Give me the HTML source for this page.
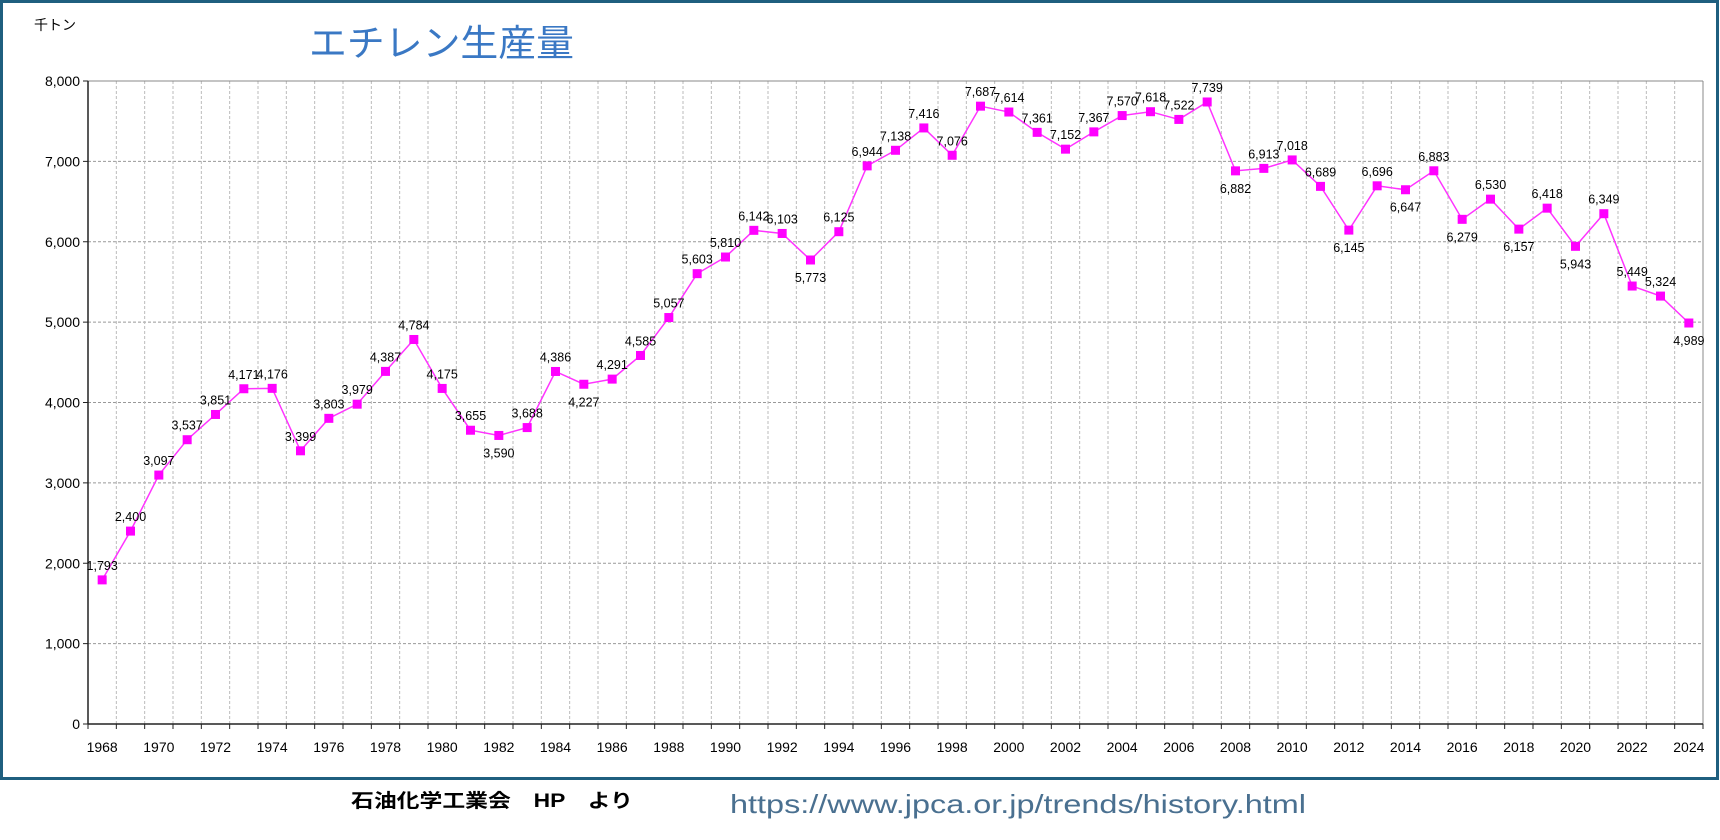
<!DOCTYPE html>
<html><head><meta charset="utf-8"><style>
html,body{margin:0;padding:0;background:#fff;}
svg{display:block;}
</style></head><body>
<svg id="s" width="1720" height="840" xmlns="http://www.w3.org/2000/svg" font-family="'Liberation Sans','Noto Sans CJK JP',sans-serif">
<rect x="1.5" y="1.5" width="1716" height="777" fill="#fff" stroke="#1f5f7f" stroke-width="3"/>
<text x="34" y="30" font-size="14" fill="#000">千トン</text>
<text x="309" y="56" font-size="37" fill="#3a78c4" textLength="265" lengthAdjust="spacingAndGlyphs">エチレン生産量</text>
<text x="351" y="807" font-size="19" font-weight="bold" fill="#000" textLength="282" lengthAdjust="spacingAndGlyphs">石油化学工業会　HP　より</text>
<text x="730" y="813" font-size="26" fill="#4a7090" textLength="576" lengthAdjust="spacingAndGlyphs">https://www.jpca.or.jp/trends/history.html</text>
<g id="g"></g>
</svg>
<script>
var d=[1793,2400,3097,3537,3851,4171,4176,3399,3803,3979,4387,4784,4175,3655,3590,3688,4386,4227,4291,4585,5057,5603,5810,6142,6103,5773,6125,6944,7138,7416,7076,7687,7614,7361,7152,7367,7570,7618,7522,7739,6882,6913,7018,6689,6145,6696,6647,6883,6279,6530,6157,6418,5943,6349,5449,5324,4989];
var below={1982:1,1985:1,1993:1,2008:1,2012:1,2014:1,2016:1,2018:1,2020:1,2024:1};
var L=88,R=1703,T=81,B=724,w=(R-L)/57;
function X(i){return L+w*(i+0.5);} function Y(v){return B-v*(B-T)/8000;}
var s='';
for(var k=1;k<=8;k++){var y=Y(k*1000);s+='<line x1="'+L+'" x2="'+R+'" y1="'+y+'" y2="'+y+'" stroke="#999" stroke-dasharray="3,2"/>';}
for(var k=1;k<57;k++){var x=L+w*k;s+='<line x1="'+x+'" x2="'+x+'" y1="'+T+'" y2="'+B+'" stroke="#bbb" stroke-dasharray="3,2"/>';}
s+='<line x1="'+L+'" x2="'+R+'" y1="'+T+'" y2="'+T+'" stroke="#888"/>';
s+='<line x1="'+R+'" x2="'+R+'" y1="'+T+'" y2="'+B+'" stroke="#888"/>';
s+='<line x1="'+L+'" x2="'+L+'" y1="'+T+'" y2="'+B+'" stroke="#222" stroke-width="1.5"/>';
s+='<line x1="'+L+'" x2="'+R+'" y1="'+B+'" y2="'+B+'" stroke="#222" stroke-width="1.5"/>';
for(var k=0;k<=8;k++){var y=Y(k*1000);s+='<line x1="'+(L-5)+'" x2="'+L+'" y1="'+y+'" y2="'+y+'" stroke="#222"/>';
s+='<text x="'+(L-8)+'" y="'+(y+5)+'" font-size="14" text-anchor="end">'+(k?k+',000':'0')+'</text>';}
for(var k=0;k<=57;k++){var x=L+w*k;s+='<line x1="'+x+'" x2="'+x+'" y1="'+B+'" y2="'+(B+5)+'" stroke="#222"/>';}
for(var i=0;i<57;i+=2){s+='<text x="'+X(i)+'" y="752" font-size="14" text-anchor="middle">'+(1968+i)+'</text>';}
var p='';for(var i=0;i<57;i++)p+=X(i)+','+Y(d[i])+' ';
s+='<polyline points="'+p+'" fill="none" stroke="#ff33ff" stroke-width="1.5"/>';
for(var i=0;i<57;i++){var x=X(i),y=Y(d[i]),yr=1968+i;
s+='<rect x="'+(x-4.5)+'" y="'+(y-4.5)+'" width="9" height="9" fill="#ff00ff"/>';
var t=d[i].toString().replace(/(\d)(\d{3})$/,'$1,$2');
var ty=below[yr]?y+22:y-10;
s+='<text x="'+x+'" y="'+ty+'" font-size="12.5" text-anchor="middle">'+t+'</text>';}
document.getElementById('g').innerHTML=s;
</script>
</body></html>
